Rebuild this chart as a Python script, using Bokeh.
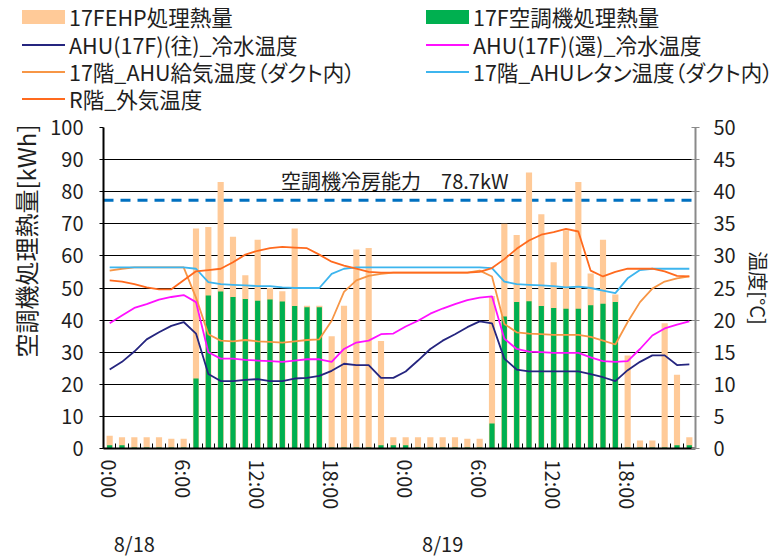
from bokeh.plotting import figure
from bokeh.models import Range1d, LinearAxis, FixedTicker, Span, Label, Title, Div
from bokeh.layouts import column
from bokeh.embed import file_html
from bokeh.resources import INLINE

# ---------------- data ----------------
hours = list(range(48))  # 8/18 0:00 ... 8/19 23:00
tick_hours = [0, 6, 12, 18, 24, 30, 36, 42]
tick_labels = ["0:00", "6:00", "12:00", "18:00", "0:00", "6:00", "12:00", "18:00"]
date_pos = [2.5, 27.5]
date_labels = ["8/18", "8/19"]

ehp_kwh = [4.0, 3.5, 3.5, 3.5, 3.5, 3.0, 3.0, 68.5, 69.0, 83.0, 66.0, 54.0,
           65.0, 50.0, 49.0, 68.5, 44.5, 44.5, 35.0, 44.5, 62.0, 62.5, 33.5, 3.5,
           3.5, 3.5, 3.5, 3.5, 3.5, 3.0, 3.0, 47.5, 70.0, 66.5, 86.0, 73.0,
           58.0, 68.0, 83.0, 54.5, 65.0, 48.0, 29.0, 2.5, 2.5, 39.0, 23.0, 3.5]
ahu_kwh = [1.0, 1.0, 0.3, 0.3, 0.3, 0.3, 0.3, 21.8, 47.7, 48.9, 47.2, 46.6,
           46.0, 46.4, 45.8, 44.4, 44.0, 44.0, 0.3, 0.3, 0.3, 0.3, 1.0, 1.0,
           1.0, 0.3, 0.3, 0.3, 0.3, 0.3, 0.3, 7.8, 41.1, 45.6, 45.9, 44.4,
           43.8, 43.5, 43.5, 44.6, 45.1, 45.6, 0.3, 0.3, 0.3, 0.3, 1.0, 1.0]
chw_supply = [12.3, 13.5, 15.1, 17.0, 18.1, 19.1, 19.7, 17.9, 11.6, 10.5, 10.5, 10.7,
              10.8, 10.5, 10.5, 10.9, 11.0, 11.3, 12.1, 13.2, 13.0, 13.0, 11.0, 11.0,
              12.0, 13.7, 15.5, 16.8, 17.8, 18.9, 19.8, 19.5, 14.0, 12.3, 12.0, 12.0,
              12.0, 12.0, 12.0, 11.6, 11.1, 10.5, 12.2, 13.5, 14.5, 14.5, 13.0, 13.1]
chw_return = [19.5, 20.7, 21.9, 22.5, 23.2, 23.6, 23.9, 22.8, 15.0, 14.0, 14.0, 13.8,
              13.7, 13.6, 13.5, 13.7, 13.9, 13.9, 13.5, 15.5, 16.5, 16.8, 17.8, 17.9,
              19.0, 19.9, 21.0, 21.8, 22.5, 23.1, 23.5, 23.7, 17.1, 15.5, 15.1, 15.0,
              14.9, 14.9, 14.9, 14.2, 13.6, 13.5, 13.6, 15.5, 17.6, 18.7, 19.3, 19.8]
supply_air = [27.7, 28.0, 28.2, 28.2, 28.2, 28.2, 28.2, 23.5, 17.8, 16.8, 16.7, 16.9,
              16.7, 16.6, 16.5, 16.7, 16.9, 17.0, 19.9, 24.4, 26.2, 26.9, 27.2, 27.4,
              27.4, 27.4, 27.4, 27.4, 27.4, 27.4, 27.7, 26.8, 19.4, 18.1, 17.9, 17.8,
              17.7, 17.7, 17.7, 17.4, 16.8, 16.2, 19.7, 22.8, 24.9, 26.0, 26.5, 26.8]
return_air = [28.2, 28.2, 28.2, 28.2, 28.2, 28.2, 28.2, 28.0, 25.9, 25.6, 25.5, 25.4,
              25.3, 25.3, 25.1, 25.0, 25.0, 25.0, 27.2, 28.0, 28.2, 28.2, 28.2, 28.2,
              28.2, 28.2, 28.2, 28.2, 28.2, 28.2, 28.2, 28.1, 26.0, 25.6, 25.5, 25.4,
              25.3, 25.1, 25.2, 25.0, 24.6, 24.2, 26.5, 27.8, 28.0, 28.0, 28.0, 28.0]
outdoor = [26.2, 26.0, 25.6, 25.1, 24.8, 24.8, 26.2, 27.6, 27.8, 28.0, 29.0, 30.2,
           30.8, 31.2, 31.4, 31.3, 31.2, 30.2, 29.1, 28.5, 28.0, 27.5, 27.4, 27.4,
           27.4, 27.4, 27.4, 27.4, 27.4, 27.4, 27.5, 28.1, 29.5, 31.1, 32.4, 33.3,
           33.7, 34.2, 33.8, 27.7, 26.8, 27.5, 28.0, 28.0, 28.0, 27.6, 26.9, 26.8]
capacity_drawn = 77.3
capacity_text = "空調機冷房能力\u300078.7kW"

# legend entries in reading order (row by row, two per row)
series_names = ["17FEHP処理熱量", "17F空調機処理熱量",
                "AHU(17F)(往)_冷水温度", "AHU(17F)(還)_冷水温度",
                "17階_AHU給気温度（ダクト内）", "17階_AHUレタン温度（ダクト内）",
                "R階_外気温度"]
series_kinds = ["bar", "bar", "line", "line", "line", "line", "line"]

# ---------------- style ----------------
FONT = "Noto Sans CJK JP"
TXT = "#1e1e1e"
C_EHP = "#FFCA98"
C_AHU = "#00B050"
C_SUP = "#25257F"
C_RET = "#FF10FF"
C_SA = "#F79646"
C_RA = "#3DB5EE"
C_OA = "#FF6A1E"
C_CAP = "#0070C0"
series_colors = [C_EHP, C_AHU, C_SUP, C_RET, C_SA, C_RA, C_OA]

LEG_H = 112
xc = [h + 0.5 for h in hours]

p = figure(width=778, height=560 - LEG_H, x_range=Range1d(0, 48), y_range=Range1d(0, 100),
           output_backend="svg", toolbar_location=None,
           min_border_left=102, min_border_right=83, min_border_top=127 - LEG_H,
           min_border_bottom=110)
p.outline_line_color = None
p.background_fill_color = "white"
p.border_fill_color = "white"
p.extra_y_ranges = {"temp": Range1d(0, 50)}

p.xgrid.visible = False
p.ygrid.grid_line_color = "#000000"
p.ygrid.grid_line_width = 1.2

# capacity line (under bars)
p.add_layout(Span(location=capacity_drawn, dimension="width", line_color=C_CAP,
                  line_width=3, line_dash="10 7", level="underlay"))

p.vbar(x=xc, top=ehp_kwh, width=0.5, fill_color=C_EHP, line_color=None)
p.vbar(x=xc, top=ahu_kwh, width=0.42, fill_color=C_AHU, line_color=None)

for ys, col in [(supply_air, C_SA), (return_air, C_RA), (outdoor, C_OA),
                (chw_return, C_RET), (chw_supply, C_SUP)]:
    p.line(xc, ys, line_color=col, line_width=1.8, y_range_name="temp")

p.add_layout(Label(x=14.4, y=83.6, text=capacity_text, text_font=FONT,
                   text_font_size="20px", text_color=TXT, text_baseline="middle"))

# left axis
ya = p.yaxis[0]
ya.ticker = FixedTicker(ticks=list(range(0, 101, 10)))
ya.axis_line_color = "#000000"
ya.axis_line_width = 2
ya.major_tick_out = 4
ya.major_tick_in = 0
ya.minor_tick_line_color = None
ya.major_label_standoff = 16
ya.major_label_text_font = FONT
ya.major_label_text_font_size = "20px"
ya.major_label_text_color = TXT
p.add_layout(Title(text="空調機処理熱量[kWh]", align="right", offset=-3,
                   text_font=FONT, text_font_size="24px", text_font_style="normal",
                   text_color=TXT), "left")

# right axis
ra = LinearAxis(y_range_name="temp", ticker=FixedTicker(ticks=list(range(0, 51, 5))))
ra.axis_line_color = "#8a8a8a"
ra.axis_line_width = 2
ra.major_tick_line_color = "#8a8a8a"
ra.major_tick_in = 4
ra.major_tick_out = 4
ra.minor_tick_line_color = None
ra.major_label_standoff = 14
ra.major_label_text_font = FONT
ra.major_label_text_font_size = "20px"
ra.major_label_text_color = TXT
ra.axis_label = "温度[°C]"
ra.axis_label_text_font = FONT
ra.axis_label_text_font_size = "20px"
ra.axis_label_text_font_style = "normal"
ra.axis_label_text_color = TXT
ra.axis_label_standoff = 5
p.add_layout(ra, "right")

# bottom axis (hours)
xa = p.xaxis[0]
xa.ticker = FixedTicker(ticks=[h + 0.5 for h in tick_hours], minor_ticks=list(range(49)))
xa.major_label_overrides = {h + 0.5: lab for h, lab in zip(tick_hours, tick_labels)}
xa.axis_line_color = "#000000"
xa.axis_line_width = 2
xa.major_tick_in = 0
xa.major_tick_out = 0
xa.minor_tick_in = 5
xa.minor_tick_out = 0
xa.minor_tick_line_color = "#000000"
xa.major_label_orientation = "vertical"
xa.major_label_standoff = 11
xa.major_label_text_font = FONT
xa.major_label_text_font_size = "20px"
xa.major_label_text_color = TXT

# date axis
da = LinearAxis(ticker=FixedTicker(ticks=date_pos),
                major_label_overrides={d: lab for d, lab in zip(date_pos, date_labels)})
da.axis_line_color = None
da.major_tick_line_color = None
da.minor_tick_line_color = None
da.major_label_standoff = 10
da.major_label_text_font = FONT
da.major_label_text_font_size = "20px"
da.major_label_text_color = TXT
p.add_layout(da, "below")

# ---------------- legend strip (HTML, two columns) ----------------
row_y = [17, 45, 72, 99]
col_x = [22, 426]
parts = []
for k, (name, kind, colr) in enumerate(zip(series_names, series_kinds, series_colors)):
    r, c = divmod(k, 2)
    x0, yc = col_x[c], row_y[r]
    if kind == "bar":
        parts.append(f'<div style="position:absolute;left:{x0}px;top:{yc - 7}px;'
                     f'width:43px;height:14px;background:{colr};"></div>')
    else:
        parts.append(f'<div style="position:absolute;left:{x0}px;top:{yc - 1}px;'
                     f'width:43px;height:2px;background:{colr};"></div>')
    parts.append(f'<div style="position:absolute;left:{x0 + 47}px;top:{yc - 11}px;'
                 f'height:22px;line-height:22px;white-space:nowrap;">{name}</div>')
legend_html = (f'<div style="position:relative;width:778px;height:{LEG_H}px;'
               f'font-family:\'{FONT}\';font-size:21.5px;color:{TXT};'
               f'font-feature-settings:\'palt\' 1;">'
               + "".join(parts) + '</div>')
leg = Div(text=legend_html, width=778, height=LEG_H, margin=(0, 0, 0, 0))

layout = column(leg, p, spacing=0)
open("out.html", "w").write(file_html(layout, INLINE))
